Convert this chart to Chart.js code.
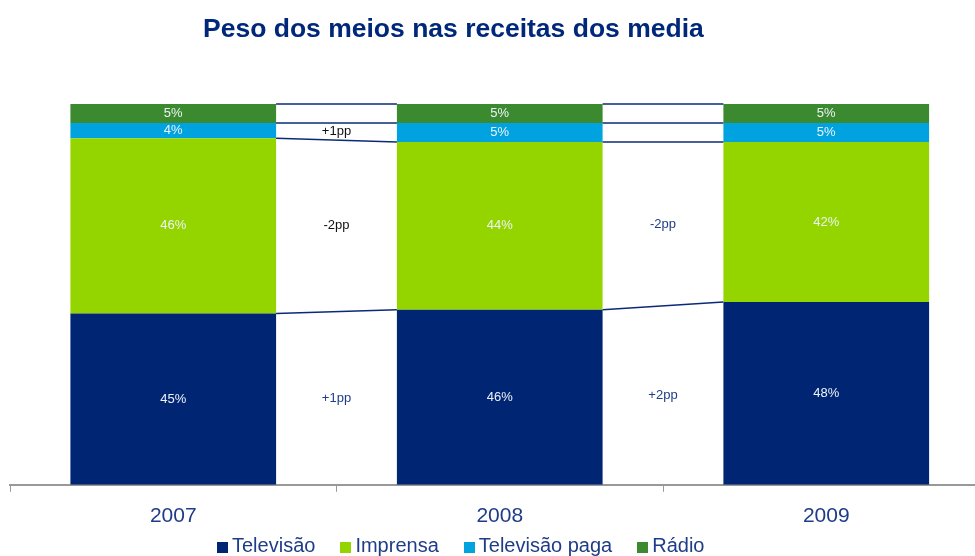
<!DOCTYPE html>
<html>
<head>
<meta charset="utf-8">
<script src="https://cdn.jsdelivr.net/npm/chart.js@4.4.1/dist/chart.umd.min.js"></script>
<style>
  html, body { margin: 0; padding: 0; background: #fff; overflow: hidden; }
  #wrap { position: relative; width: 975px; height: 556px; overflow: hidden; }
  #box { position: absolute; left: 0; top: 0; width: 1000px; height: 556px; }
  #title {
    position: absolute; left: 203px; top: 13px;
    font: bold 26.5px "Liberation Sans", Arial, sans-serif; color: #00287a;
    line-height: 30px; white-space: nowrap;
  }
  #legend {
    position: absolute; left: 217px; top: 534px; display: flex; align-items: center;
    font: 20px "Liberation Sans", Arial, sans-serif; color: #1f3c88; white-space: nowrap;
  }
  .legend-item { display: flex; align-items: center; margin-right: 25px; }
  .legend-box { width: 11px; height: 11px; margin-right: 4px; margin-top: 3px; }
</style>
</head>
<body>
<div id="wrap">
  <div id="box"><canvas id="mediaChart"></canvas></div>
  <div id="title">Peso dos meios nas receitas dos media</div>
  <div id="legend"></div>
</div>
<script>
const years = ["2007", "2008", "2009"];
const televisao = [45, 46, 48];
const imprensa = [46, 44, 42];
const televisaoPaga = [4, 5, 5];
const radio = [5, 5, 5];
// colour of the "pp" notes, per gap and per series
const deltaColors = [
  ["#1f3c88", "#111111", "#111111", "#111111"],
  ["#1f3c88", "#1f3c88", "#1f3c88", "#1f3c88"],
];

document.addEventListener("DOMContentLoaded", function () {
  const ctx = document.getElementById("mediaChart").getContext("2d");

  // white percentage inside each segment
  const segmentLabels = {
    id: "segmentLabels",
    afterDatasetsDraw(chart) {
      const c = chart.ctx;
      c.save();
      c.font = '13px "Liberation Sans", Arial, sans-serif';
      c.fillStyle = "#eef2f8";
      c.textAlign = "center";
      c.textBaseline = "middle";
      chart.data.datasets.forEach((ds, d) => {
        chart.getDatasetMeta(d).data.forEach((el, i) => {
          c.fillText(ds.data[i] + "%", el.x, (el.y + el.base) / 2);
        });
      });
      c.restore();
    },
  };

  // lines joining segment tops between bars, and the change in pp
  const connectors = {
    id: "connectors",
    afterDatasetsDraw(chart) {
      const c = chart.ctx;
      c.save();
      c.strokeStyle = "#0a2a78";
      c.lineWidth = 1.5;
      c.font = '13px "Liberation Sans", Arial, sans-serif';
      c.textAlign = "center";
      c.textBaseline = "middle";
      chart.data.datasets.forEach((ds, d) => {
        const bars = chart.getDatasetMeta(d).data;
        for (let i = 0; i < bars.length - 1; i++) {
          const a = bars[i], b = bars[i + 1];
          c.beginPath();
          c.moveTo(a.x + a.width / 2, a.y);
          c.lineTo(b.x - b.width / 2, b.y);
          c.stroke();
          const delta = ds.data[i + 1] - ds.data[i];
          if (delta !== 0) {
            const midY = ((a.y + a.base) / 2 + (b.y + b.base) / 2) / 2;
            c.fillStyle = deltaColors[i][d];
            c.fillText((delta > 0 ? "+" : "") + delta + "pp", (a.x + b.x) / 2, midY);
          }
        }
      });
      c.restore();
    },
  };

  const chart = new Chart(ctx, {
    type: "bar",
    data: {
      labels: years,
      datasets: [
        { label: "Televisão", data: televisao, backgroundColor: "#002673" },
        { label: "Imprensa", data: imprensa, backgroundColor: "#94d500" },
        { label: "Televisão paga", data: televisaoPaga, backgroundColor: "#00a3e0" },
        { label: "Rádio", data: radio, backgroundColor: "#3c8a30" },
      ],
    },
    options: {
      responsive: true,
      maintainAspectRatio: false,
      animation: false,
      layout: { padding: { top: 104, left: 10, right: 10.5, bottom: 15 } },
      datasets: { bar: { categoryPercentage: 1, barPercentage: 0.63, borderWidth: 0 } },
      plugins: {
        legend: { display: false },
        tooltip: { enabled: false },
      },
      scales: {
        x: {
          stacked: true,
          grid: { offset: true, drawOnChartArea: false, drawTicks: true, tickLength: 7, color: "#999" },
          border: { color: "#999", width: 2 },
          ticks: {
            color: "#1f3c88",
            padding: 12,
            font: { family: '"Liberation Sans", Arial, sans-serif', size: 21 },
          },
        },
        y: { stacked: true, min: 0, max: 100, display: false },
      },
    },
    plugins: [segmentLabels, connectors],
  });

  // HTML legend built from the datasets
  document.getElementById("legend").innerHTML = chart.data.datasets
    .map(
      (ds) => `
      <div class="legend-item">
        <span class="legend-box" style="background:${ds.backgroundColor}"></span>
        <span>${ds.label}</span>
      </div>`
    )
    .join("");
});
</script>
</body>
</html>
